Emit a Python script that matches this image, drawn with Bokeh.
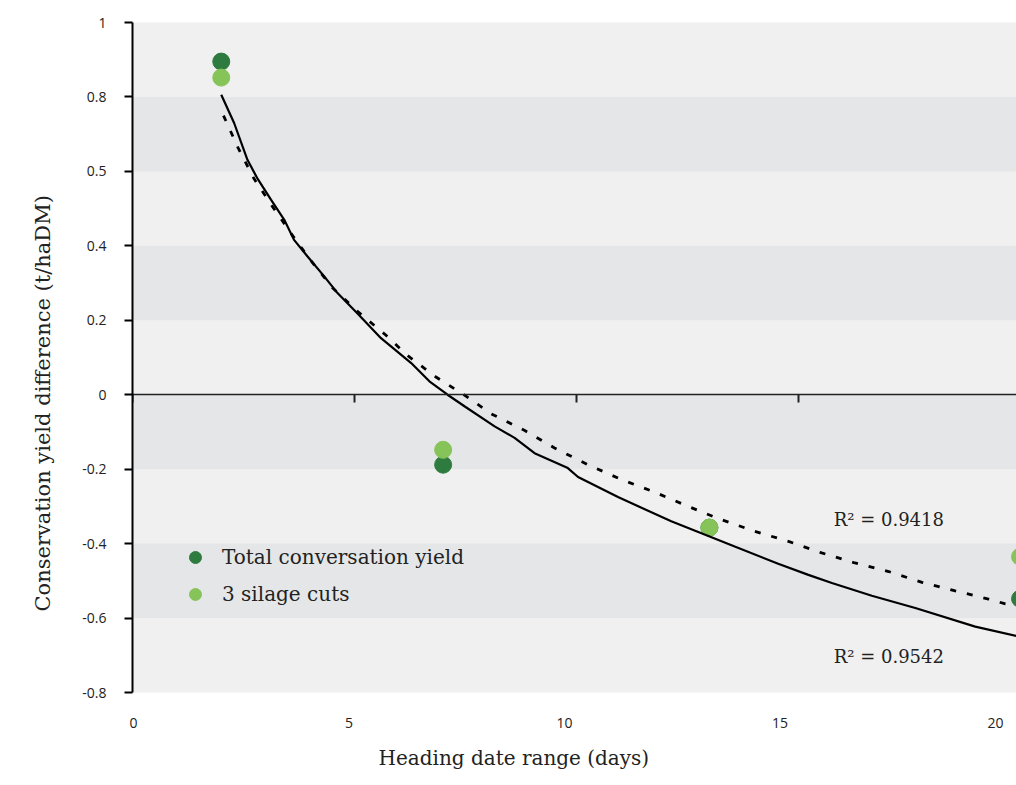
from bokeh.plotting import figure
from bokeh.models import Range1d, LinearAxis, FixedTicker, Label, Legend, LegendItem, Title
from bokeh.embed import file_html
from bokeh.resources import INLINE

# ---- data ----
x_days = [2, 7, 13, 20]
total_yield = [0.895, -0.188, -0.357, -0.548]
silage_cuts = [0.852, -0.148, -0.357, -0.435]

# trend line (total conversation yield), read point by point
fit_total_x = [2.00, 2.29, 2.59, 2.81, 3.12, 3.42, 3.64, 3.94, 4.32, 4.62, 5.07, 5.60,
               6.28, 6.69, 7.10, 7.48, 8.16, 8.61, 9.06, 9.81, 10.04, 10.94, 12.14,
               12.82, 13.57, 14.55, 15.23, 15.76, 16.66, 17.64, 18.99, 19.95]
fit_total_y = [0.806, 0.730, 0.631, 0.582, 0.524, 0.470, 0.416, 0.372, 0.318, 0.273,
               0.218, 0.152, 0.085, 0.036, 0.000, -0.031, -0.085, -0.116, -0.157,
               -0.197, -0.221, -0.275, -0.340, -0.372, -0.408, -0.454, -0.484, -0.506,
               -0.540, -0.573, -0.623, -0.649]

# trend line (3 silage cuts), read point by point
fit_silage_x = [2.05, 2.38, 2.74, 3.14, 3.57, 4.00, 4.51, 5.07, 5.70, 6.20, 6.82, 7.48,
                8.08, 8.85, 9.51, 10.26, 11.02, 11.77, 12.52, 13.23, 14.02, 14.78,
                15.53, 16.28, 17.04, 17.79, 18.54, 19.29, 19.67, 19.85]
fit_silage_y = [0.750, 0.663, 0.580, 0.508, 0.434, 0.363, 0.287, 0.224, 0.161, 0.105,
                0.049, -0.001, -0.051, -0.097, -0.143, -0.188, -0.228, -0.262, -0.300,
                -0.334, -0.367, -0.394, -0.425, -0.452, -0.475, -0.504, -0.527, -0.549,
                -0.562, -0.565]

y_ticks = [-0.8, -0.6, -0.4, -0.2, 0, 0.2, 0.4, 0.6, 0.8, 1.0]
y_tick_labels = ["-0.8", "-0.6", "-0.4", "-0.2", "0", "0.2", "0.4", "0.5", "0.8", "1"]
x_ticks = [0, 5, 10, 15, 20]
x_tick_labels = ["0", "5", "10", "15", "20"]

series_names = ["Total conversation yield", "3 silage cuts"]
r2_total = "R\u00b2 = 0.9542"
r2_silage = "R\u00b2 = 0.9418"
x_title = "Heading date range (days)"
y_title = "Conservation yield difference (t/haDM)"

DARK = "#2e7b3f"
LIGHT = "#86c45a"
SERIF = "DejaVu Serif"
SANS = "Open Sans"
TXT = "#222222"

p = figure(width=1016, height=785,
           x_range=Range1d(0, 19.92), y_range=Range1d(-0.8, 1.0),
           output_backend="svg", toolbar_location=None,
           x_axis_location=None, y_axis_location="left",
           min_border_left=132, min_border_right=0,
           min_border_top=22, min_border_bottom=93)
p.outline_line_color = None
p.background_fill_color = "#f0f0f0"
p.border_fill_color = "white"
for g in p.xgrid:
    g.grid_line_color = None

# horizontal bands
yt = FixedTicker(ticks=y_ticks)
p.ygrid.ticker = yt
p.ygrid.grid_line_color = None
p.ygrid.band_fill_color = "#e5e6e8"
p.ygrid.band_fill_alpha = 1.0

# y axis
ya = p.yaxis[0]
ya.ticker = yt
ya.major_label_overrides = dict(zip(y_ticks, y_tick_labels))
ya.axis_line_color = "black"
ya.axis_line_width = 2
ya.major_tick_line_color = "black"
ya.major_tick_line_width = 2
ya.major_tick_out = 8
ya.major_tick_in = 0
ya.minor_tick_line_color = None
ya.major_label_standoff = 18
ya.major_label_text_font = SANS
ya.major_label_text_font_size = "14px"
ya.major_label_text_color = TXT

# zero line with downward ticks
zero_axis = LinearAxis(fixed_location=0, ticker=FixedTicker(ticks=x_ticks))
zero_axis.major_label_overrides = {t: "" for t in x_ticks}
zero_axis.axis_line_color = "#222222"
zero_axis.axis_line_width = 1.5
zero_axis.major_tick_line_color = "#222222"
zero_axis.major_tick_line_width = 2
zero_axis.major_tick_out = 8
zero_axis.major_tick_in = 0
zero_axis.minor_tick_line_color = None
p.add_layout(zero_axis, "below")

# bottom tick labels (own scale, as in the reference)
p.extra_x_ranges = {"labels": Range1d(-0.023, 20.49)}
lab_axis = LinearAxis(x_range_name="labels", ticker=FixedTicker(ticks=x_ticks))
lab_axis.major_label_overrides = dict(zip(x_ticks, x_tick_labels))
lab_axis.axis_line_color = None
lab_axis.major_tick_line_color = None
lab_axis.minor_tick_line_color = None
lab_axis.major_label_standoff = 19
lab_axis.major_label_text_font = SANS
lab_axis.major_label_text_font_size = "14px"
lab_axis.major_label_text_color = TXT
p.add_layout(lab_axis, "below")

# axis titles
xt = Title(text=x_title, align="left", offset=246, vertical_align="bottom", standoff=26,
           text_font=SERIF, text_font_size="20px", text_font_style="normal", text_color=TXT)
p.add_layout(xt, "below")
yt_title = Title(text=y_title, align="left", offset=81, vertical_align="middle", standoff=48,
                 text_font=SERIF, text_font_size="21px", text_font_style="normal", text_color=TXT)
p.add_layout(yt_title, "left")

# points
r_total = p.scatter(x_days, total_yield, size=17, color=DARK, marker="circle")
r_silage = p.scatter(x_days, silage_cuts, size=17, color=LIGHT, marker="circle")

# trend lines
p.line(fit_total_x, fit_total_y, line_color="black", line_width=2.2)
p.line(fit_silage_x, fit_silage_y, line_color="black", line_width=2.8, line_dash="6 11")

legend = Legend(items=[LegendItem(label=series_names[0], renderers=[r_total]),
                       LegendItem(label=series_names[1], renderers=[r_silage])],
                location=(48, 83))
legend.background_fill_alpha = 0
legend.border_line_alpha = 0
legend.margin = 0
legend.padding = 0
legend.spacing = 7
legend.glyph_width = 30
legend.glyph_height = 30
legend.label_height = 30
legend.label_standoff = 12
legend.label_text_font = SERIF
legend.label_text_font_size = "20px"
legend.label_text_color = TXT
legend.label_text_baseline = "middle"
p.add_layout(legend, "center")

for txt, yy in [(r2_silage, -0.335), (r2_total, -0.703)]:
    p.add_layout(Label(x=15.8, y=yy, text=txt, text_font=SERIF, text_font_size="18px",
                       text_color=TXT, text_baseline="middle", text_align="left"))

open("out.html", "w").write(file_html(p, INLINE))
